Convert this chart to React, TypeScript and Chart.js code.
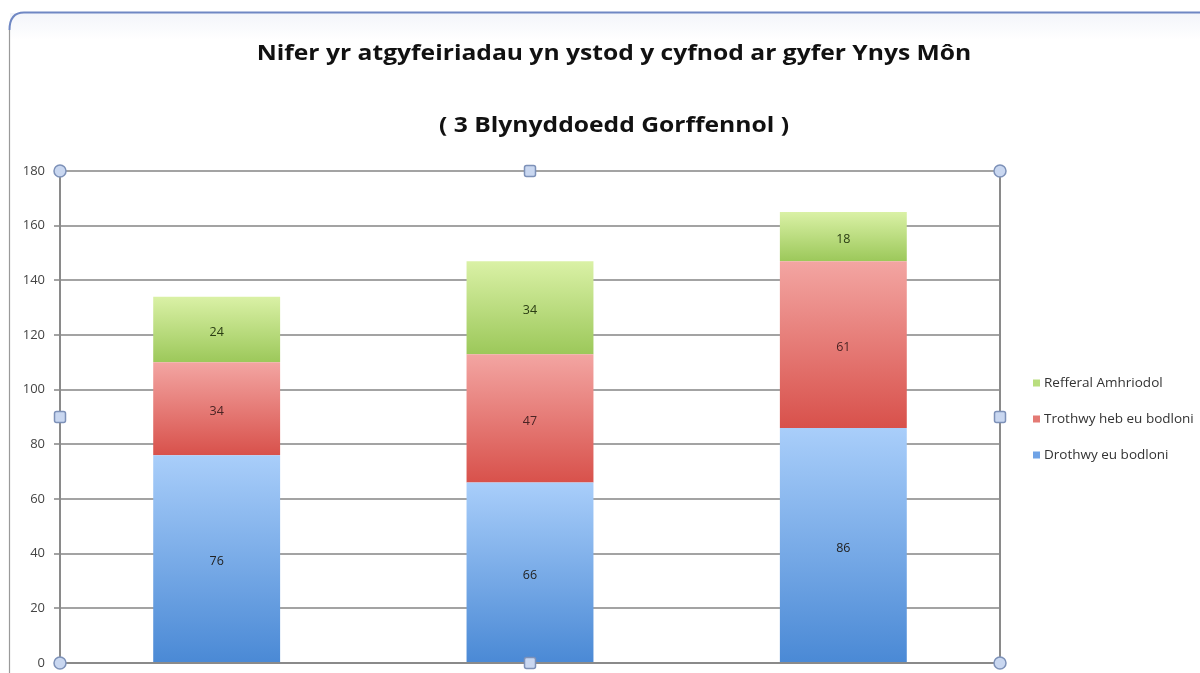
import React, { useEffect, useRef } from "react";
import { Chart, registerables } from "chart.js";

Chart.register(...registerables);

const categories = ["Cyfnod 1", "Cyfnod 2", "Cyfnod 3"];
const seriesNames = ["Drothwy eu bodloni", "Trothwy heb eu bodloni", "Refferal Amhriodol"];
const drothwyValues = [76, 66, 86];
const trothwyValues = [34, 47, 61];
const refferalValues = [24, 34, 18];
const yTicks = { min: 0, max: 180, step: 20 };
const titleLines = [
  "Nifer yr atgyfeiriadau yn ystod y cyfnod ar gyfer Ynys Môn",
  "( 3 Blynyddoedd Gorffennol )",
];

const allValues = [drothwyValues, trothwyValues, refferalValues];
const gradStops = [
  ["#a9cefa", "#4a89d5"],
  ["#f3a5a2", "#d8514b"],
  ["#daf1a6", "#9cc85a"],
];
const solidColors = ["#6fa3e6", "#e47a74", "#b9de7e"];
const labelColors = ["#222222", "#4a2424", "#2b3d14"];
const FONT = "'Open Sans', Lato, sans-serif";

const decorPlugin = {
  id: "decor",
  beforeDraw(chart: any) {
    const c = chart.ctx;
    c.save();
    c.fillStyle = "#ffffff";
    c.fillRect(0, 0, chart.width, chart.height);
    const band = c.createLinearGradient(0, 13, 0, 40);
    band.addColorStop(0, "#f3f5fa");
    band.addColorStop(1, "#ffffff");
    c.fillStyle = band;
    c.fillRect(10, 13, chart.width - 10, 27);
    c.strokeStyle = "#6f87c3";
    c.lineWidth = 2;
    c.beginPath();
    c.moveTo(9.5, 30);
    c.quadraticCurveTo(9.5, 12.5, 24, 12.5);
    c.lineTo(chart.width, 12.5);
    c.stroke();
    c.strokeStyle = "#9a9a9a";
    c.lineWidth = 1.2;
    c.beginPath();
    c.moveTo(9.5, 30);
    c.lineTo(9.5, chart.height);
    c.stroke();
    c.fillStyle = "#111111";
    c.font = `bold 22px ${FONT}`;
    c.textAlign = "center";
    c.textBaseline = "middle";
    const cx = 614;
    const ys = [54, 126];
    titleLines.forEach((t, i) => {
      c.save();
      c.translate(cx, ys[i]);
      c.scale(1.12, 1);
      c.fillText(t, 0, 0);
      c.restore();
    });
    c.restore();
  },
  afterDatasetsDraw(chart: any) {
    const c = chart.ctx;
    const a = chart.chartArea;
    c.save();
    c.font = `12.5px ${FONT}`;
    c.textAlign = "center";
    c.textBaseline = "middle";
    chart.data.datasets.forEach((ds: any, di: number) => {
      const meta = chart.getDatasetMeta(di);
      meta.data.forEach((el: any, i: number) => {
        c.fillStyle = labelColors[di];
        c.fillText(String(ds.data[i]), el.x, (el.y + el.base) / 2 + 3);
      });
    });
    c.strokeStyle = "#8a8a8a";
    c.lineWidth = 2;
    c.beginPath();
    c.moveTo(a.right, a.top);
    c.lineTo(a.right, a.bottom);
    c.stroke();
    const midX = (a.left + a.right) / 2;
    const midY = (a.top + a.bottom) / 2;
    c.fillStyle = "#c9d7f0";
    c.strokeStyle = "#7d91b8";
    c.lineWidth = 1.5;
    [[a.left, a.top], [a.right, a.top], [a.left, a.bottom], [a.right, a.bottom]].forEach(([x, y]) => {
      c.beginPath();
      c.arc(x, y, 6, 0, Math.PI * 2);
      c.fill();
      c.stroke();
    });
    [[midX, a.top], [midX, a.bottom], [a.left, midY], [a.right, midY]].forEach(([x, y]) => {
      c.beginPath();
      c.roundRect(x - 5.5, y - 5.5, 11, 11, 2);
      c.fill();
      c.stroke();
    });
    c.font = `13.5px ${FONT}`;
    c.textAlign = "left";
    c.textBaseline = "middle";
    const legendX = 1033;
    const legendY0 = 383;
    const gap = 36;
    for (let k = 0; k < seriesNames.length; k++) {
      const di = seriesNames.length - 1 - k;
      const y = legendY0 + k * gap;
      c.fillStyle = solidColors[di];
      c.fillRect(legendX, y - 3.5, 7, 7);
      c.fillStyle = "#333333";
      c.fillText(seriesNames[di], legendX + 11, y);
    }
    c.restore();
  },
};

function makeBg(di: number) {
  return (ctx: any) => {
    const chart = ctx.chart;
    if (!chart.chartArea || ctx.type !== "data") return solidColors[di];
    const i = ctx.dataIndex;
    let base = 0;
    for (let d = 0; d < di; d++) base += allValues[d][i];
    const top = base + allValues[di][i];
    const ys = chart.scales.y;
    const y0 = ys.getPixelForValue(base);
    const y1 = ys.getPixelForValue(top);
    const g = chart.ctx.createLinearGradient(0, y1, 0, y0);
    g.addColorStop(0, gradStops[di][0]);
    g.addColorStop(1, gradStops[di][1]);
    return g;
  };
}

export default function App() {
  const ref = useRef<HTMLCanvasElement>(null);
  useEffect(() => {
    document.body.style.margin = "0";
    const chart = new Chart(ref.current as HTMLCanvasElement, {
      type: "bar",
      data: {
        labels: categories,
        datasets: allValues.map((vals, di) => ({
          label: seriesNames[di],
          data: vals,
          backgroundColor: makeBg(di),
          borderWidth: 0,
          barPercentage: 0.405,
          categoryPercentage: 1,
          yAxisID: "y",
        })),
      },
      options: {
        responsive: false,
        animation: false,
        layout: { padding: { left: 0, right: 0, top: 171, bottom: 10 } },
        plugins: {
          legend: { display: false },
          tooltip: { enabled: false },
          title: { display: false },
        },
        scales: {
          x: {
            stacked: true,
            ticks: { display: false },
            grid: { display: false },
            border: { display: true, color: "#8a8a8a", width: 2 },
            afterFit: (s: any) => {
              s.height = 0;
              s.paddingBottom = 0;
            },
          },
          y: {
            stacked: true,
            position: "left",
            min: yTicks.min,
            max: yTicks.max,
            ticks: {
              stepSize: yTicks.step,
              color: "#444444",
              font: { family: FONT, size: 13 },
              padding: 9,
            },
            grid: { color: "#a3a3a3", lineWidth: 2, tickLength: 6 },
            border: { color: "#8a8a8a", width: 2 },
            afterFit: (s: any) => {
              s.width = 60;
              s.paddingBottom = 0;
              s.paddingTop = 0;
            },
          },
          yRight: {
            type: "linear",
            position: "right",
            display: true,
            ticks: { display: false },
            grid: { display: false, drawTicks: false },
            border: { display: false },
            afterFit: (s: any) => {
              s.width = 200;
              s.paddingBottom = 0;
              s.paddingTop = 0;
            },
          },
        },
      } as any,
      plugins: [decorPlugin],
    });
    return () => chart.destroy();
  }, []);
  return <canvas ref={ref} width={1200} height={673} style={{ display: "block" }} />;
}
